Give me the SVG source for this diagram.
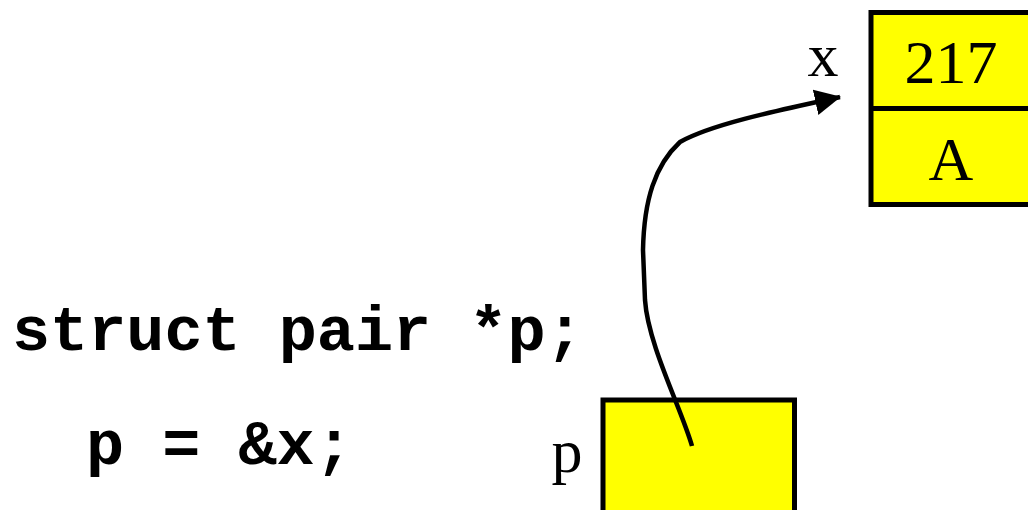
<svg xmlns="http://www.w3.org/2000/svg" width="1028" height="510" viewBox="0 0 1028 510">
<style>
.box{fill:#ffff00;stroke:#000;stroke-width:5}
.lbl{font-family:"Liberation Serif",serif;font-size:62px;fill:#000}
.code{font-family:"Liberation Mono",monospace;font-weight:bold;font-size:63.5px;fill:#000}
.conn{fill:none;stroke:#000;stroke-width:4.5}
</style>
<defs>
<marker id="ah" markerUnits="userSpaceOnUse" markerWidth="30" markerHeight="30" refX="25" refY="13" orient="auto">
<path d="M0,0 L26,13 L0,26 Z" fill="#000"/>
</marker>
</defs>
<g id="code">
<text class="code" x="12" y="350">struct pair *p;</text>
<text class="code" x="86" y="464">p = &amp;x;</text>
</g>
<g id="node-x">
<rect class="box" x="871" y="12.5" width="170" height="192"/>
<line x1="871" y1="108.5" x2="1040" y2="108.5" stroke="#000" stroke-width="5"/>
<text class="lbl" x="951" y="83" text-anchor="middle">217</text>
<text class="lbl" x="951" y="180" text-anchor="middle">A</text>
<text class="lbl" x="823" y="76" text-anchor="middle">x</text>
</g>
<g id="node-p">
<rect class="box" x="603" y="400" width="191.5" height="120"/>
<text class="lbl" x="567" y="472" text-anchor="middle">p</text>
</g>
<g id="connectors">
<path class="conn" marker-end="url(#ah)" d="M692,446 C682,410 648,345 645,300 L643,250 C644,200 655,165 680,142 C712,124 780,110 840,97"/>
</g>
</svg>
